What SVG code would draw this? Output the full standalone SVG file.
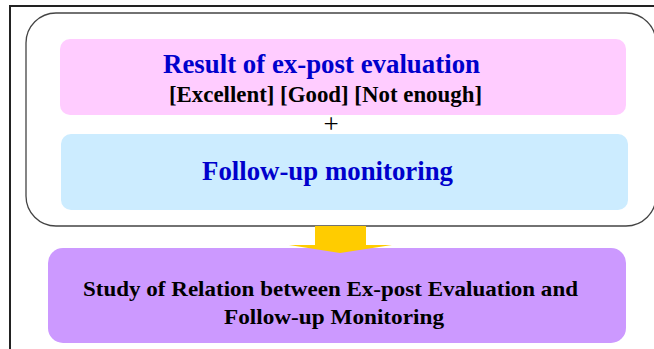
<svg xmlns="http://www.w3.org/2000/svg" width="654" height="349" viewBox="0 0 654 349">
  <style>
    .t { font-family: "Liberation Serif", "Times New Roman", serif; font-weight: bold; }
    .blue { fill: #0000CC; font-size: 28px; }
    .blk { fill: #000000; }
  </style>
  <rect width="654" height="349" fill="#FFFFFF"/>
  <!-- outer frame, running past the right and bottom edges -->
  <rect x="10" y="6" width="700" height="400" fill="none" stroke="#222222" stroke-width="2"/>
  <!-- rounded container -->
  <rect x="26" y="13" width="630" height="213" rx="30" ry="30" fill="#FFFFFF" stroke="#444444" stroke-width="1.3"/>

  <g id="result">
    <rect x="60" y="39" width="566" height="76" rx="10" fill="#FFCCFF"/>
    <text class="t blue" x="163" y="73" textLength="317" lengthAdjust="spacingAndGlyphs">Result of ex-post evaluation</text>
    <text class="t blk" x="169" y="102" font-size="23" textLength="313" lengthAdjust="spacingAndGlyphs">[Excellent] [Good] [Not enough]</text>
  </g>

  <g id="plus">
    <text x="331" y="133" font-family="Liberation Serif, serif" font-size="27" text-anchor="middle" fill="#000000">+</text>
  </g>

  <g id="monitoring">
    <rect x="61" y="134" width="567" height="76" rx="10" fill="#CCECFF"/>
    <text class="t blue" x="202" y="180" textLength="251" lengthAdjust="spacingAndGlyphs">Follow-up monitoring</text>
  </g>

  <g id="study">
    <rect x="48" y="248" width="578" height="95" rx="15" fill="#CC99FF"/>
    <text class="t blk" x="83" y="296" font-size="22" textLength="495" lengthAdjust="spacingAndGlyphs">Study of Relation between Ex-post Evaluation and</text>
    <text class="t blk" x="224" y="323.5" font-size="22" textLength="220" lengthAdjust="spacingAndGlyphs">Follow-up Monitoring</text>
  </g>

  <g id="connectors">
    <polygon points="315,226 366,226 366,245 392,245 340,253 289,245 315,245" fill="#FFCC00"/>
  </g>
</svg>
